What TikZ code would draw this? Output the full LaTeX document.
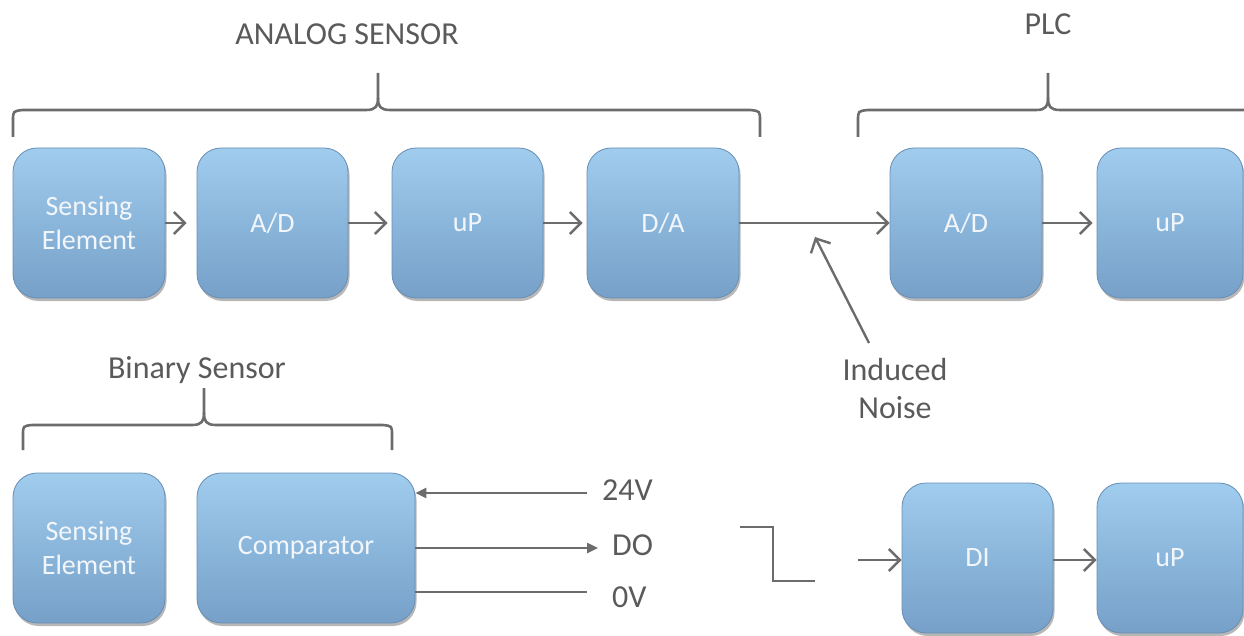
\documentclass[tikz,border=0pt]{standalone}
\usepackage{fontspec}
\setmainfont{Carlito}
\usetikzlibrary{arrows.meta,shadows}
\definecolor{boxtop}{RGB}{160,204,238}
\definecolor{boxbot}{RGB}{118,160,200}
\definecolor{boxedge}{RGB}{104,142,180}
\definecolor{linegray}{RGB}{108,108,108}
\definecolor{textgray}{RGB}{90,90,90}
\definecolor{boxtext}{RGB}{242,246,250}
\tikzset{
  block/.style={rounded corners=24pt, top color=boxtop, bottom color=boxbot,
    draw=boxedge, line width=0.8pt, text=boxtext, align=center,
    minimum height=150pt, font=\fontsize{28}{34}\selectfont, inner sep=0pt,
    drop shadow={shadow xshift=1.5pt, shadow yshift=-3pt, opacity=0.4, fill=black!70}},
  label/.style={text=textgray, align=center, font=\fontsize{32}{38}\selectfont, inner sep=0pt},
  wire/.style={draw=linegray, line width=2.4pt},
  flow/.style={wire, -{Straight Barb[length=11pt,width=22pt,line width=2.4pt]}},
  feed/.style={wire, -{Triangle[length=11pt,width=10pt]}},
  brace/.style={draw=linegray, line width=2.6pt},
}
\begin{document}
\begin{tikzpicture}[x=1pt,y=-1pt]
\useasboundingbox (0,0) rectangle (1244,636);

% analog sensor chain
\node[block, minimum width=152pt] (se1) at (89,223) {Sensing\\Element};
\node[block, minimum width=151pt] (ad1) at (272.5,223) {A/D};
\node[block, minimum width=151pt] (up1) at (467.5,223) {uP};
\node[block, minimum width=152pt] (da1) at (663,223) {D/A};
% PLC inputs
\node[block, minimum width=152pt] (ad2) at (966,223) {A/D};
\node[block, minimum width=146pt] (up2) at (1170,223) {uP};

\draw[flow, shorten >=10pt] (se1) -- (ad1);
\draw[flow, shorten >=4pt] (ad1) -- (up1);
\draw[flow, shorten >=4pt] (up1) -- (da1);
\draw[flow] (da1) -- (ad2);
\draw[flow, shorten >=4pt] (ad2) -- (up2);

% induced noise
\node[label] (noise) at (895,389) {Induced\\Noise};
\coordinate (ntail) at (869,343);
\coordinate (nhead) at (815,237);
\draw[flow] (ntail) -- (nhead);

% binary sensor chain
\node[block, minimum width=152pt] (se2) at (89,548) {Sensing\\Element};
\node[block, minimum width=218pt] (cmp) at (306,548) {Comparator};
\node[block, minimum width=151pt] (di) at (977.5,558) {DI};
\node[block, minimum width=146pt] (up3) at (1170,558) {uP};

% supply and output lines
\node[label, anchor=west] (t24) at (602,490) {24V};
\node[label, anchor=west] (tdo) at (612,545) {DO};
\node[label, anchor=west] (t0v) at (612,597) {0V};
\coordinate (v24) at (587,493);
\coordinate (vdo) at (598,548);
\coordinate (v0) at (587,592);
\draw[feed] (v24) -- (v24 -| cmp.east);
\draw[feed] (vdo -| cmp.east) -- (vdo);
\draw[wire] (v0 -| cmp.east) -- (v0);

% switching signal
\draw[wire] (740,527) -| (773,581) -- (815,581);

\coordinate (dinp) at (858,560);
\draw[flow] (dinp) -- (di.west |- dinp);
\draw[flow] (di.east |- dinp) -- (up3.west |- dinp);

% group braces and titles
\node[label] (tanalog) at (347,34) {ANALOG SENSOR};
\node[label] (tplc) at (1048,24) {PLC};
\node[label] (tbin) at (197,370) {Binary Sensor};

\draw[brace] (13,137) -- (13,121) .. controls (13,111) .. (23,110) -- (366,110)
  .. controls (376,110) and (378,106) .. (378,98) -- (378,73);
\draw[brace] (378,98) .. controls (378,106) and (380,110) .. (390,110) -- (750,110)
  .. controls (760,111) .. (760,121) -- (760,137);

\draw[brace] (858,137) -- (858,121) .. controls (858,111) .. (868,110) -- (1036,110)
  .. controls (1046,110) and (1048,106) .. (1048,98) -- (1048,73);
\draw[brace] (1048,98) .. controls (1048,106) and (1050,110) .. (1060,110) -- (1250,110);

\draw[brace] (23,450) -- (23,435) .. controls (23,426) .. (32,425) -- (192,425)
  .. controls (202,425) and (204,421) .. (204,413) -- (204,388);
\draw[brace] (204,413) .. controls (204,421) and (206,425) .. (216,425) -- (383,425)
  .. controls (392,426) .. (392,435) -- (392,450);
\end{tikzpicture}
\end{document}
